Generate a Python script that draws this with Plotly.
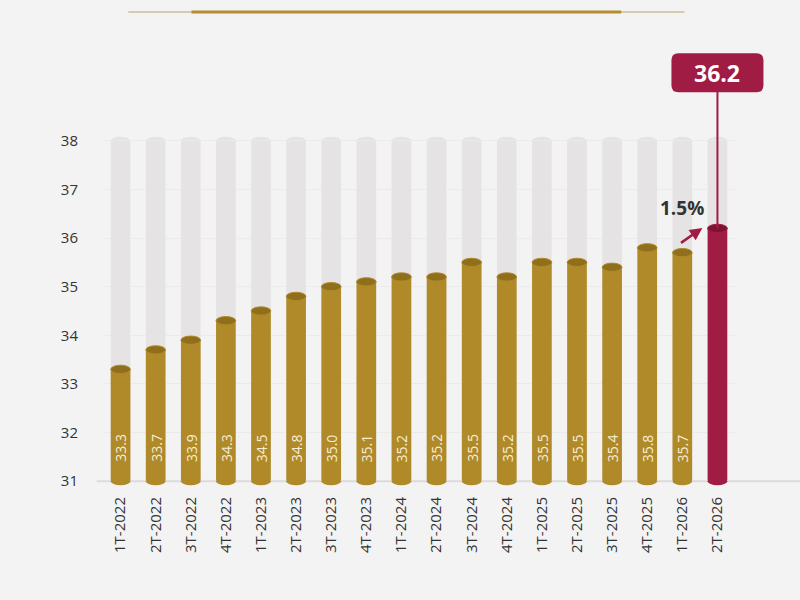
import plotly.graph_objects as go

# datos trimestrales
trimestres = ["1T-2022", "2T-2022", "3T-2022", "4T-2022",
              "1T-2023", "2T-2023", "3T-2023", "4T-2023",
              "1T-2024", "2T-2024", "3T-2024", "4T-2024",
              "1T-2025", "2T-2025", "3T-2025", "4T-2025",
              "1T-2026", "2T-2026"]
valores = [33.3, 33.7, 33.9, 34.3, 34.5, 34.8, 35.0, 35.1, 35.2,
           35.2, 35.5, 35.2, 35.5, 35.5, 35.4, 35.8, 35.7, 36.2]
variacion = "1.5%"

y_min = 31
y_max = 38
pad = 0.1

ORO = "#B08A28"
ORO_OSC = "#8F6E1C"
GUINDA = "#A11C45"
GUINDA_OSC = "#7E1233"
GRIS = "#E5E3E3"
FONDO = "#F4F3F3"

n = len(trimestres)
colores = [ORO] * (n - 1) + [GUINDA]


def a_paper(v):
    # convierte un valor del eje y a coordenada paper
    return (v - (y_min - pad)) / ((y_max + pad) - (y_min - pad))


def caja_redondeada(w, h, r):
    # rectangulo con esquinas redondeadas, en pixeles alrededor del ancla
    x0, x1, y0, y1 = -w / 2, w / 2, -h / 2, h / 2
    return (f"M {x0 + r},{y0} L {x1 - r},{y0} Q {x1},{y0} {x1},{y0 + r} "
            f"L {x1},{y1 - r} Q {x1},{y1} {x1 - r},{y1} L {x0 + r},{y1} "
            f"Q {x0},{y1} {x0},{y1 - r} L {x0},{y0 + r} Q {x0},{y0} {x0 + r},{y0} Z")


fig = go.Figure()

# barras grises de fondo
fig.add_trace(go.Bar(
    x=trimestres, y=[y_max - y_min] * n, base=y_min,
    width=0.56, marker_color=GRIS, marker_line_width=0,
    hoverinfo="skip", showlegend=False,
))
# barras de valores
fig.add_trace(go.Bar(
    x=trimestres, y=[v - y_min for v in valores], base=y_min,
    width=0.56, marker_color=colores, marker_line_width=0,
    customdata=valores, hovertemplate="%{x}: %{customdata}<extra></extra>",
    showlegend=False,
))

shapes = []
# linea base
shapes.append(dict(type="line", xref="paper", yref="y", x0=-0.01, x1=1.12,
                   y0=y_min, y1=y_min, line=dict(color="#DCDADA", width=2)))
# linea dorada decorativa arriba
shapes.append(dict(type="line", xref="paper", yref="paper", x0=0.04, x1=0.92,
                   y0=1.354, y1=1.354, line=dict(color="#CDBE95", width=1.5)))
shapes.append(dict(type="line", xref="paper", yref="paper", x0=0.14, x1=0.82,
                   y0=1.354, y1=1.354, line=dict(color="#B48E2E", width=3)))

# tapas tipo cilindro
hw = 0.28
eh = 0.085
for i, v in enumerate(valores):
    c = colores[i]
    oscuro = ORO_OSC if c == ORO else GUINDA_OSC
    # tapa redondeada de la barra gris
    shapes.append(dict(type="circle", xref="x", yref="y", x0=i - hw, x1=i + hw,
                       y0=y_max - eh, y1=y_max + eh, fillcolor=GRIS, line_width=0, layer="below"))
    # base del cilindro
    shapes.append(dict(type="circle", xref="x", yref="y", x0=i - hw, x1=i + hw,
                       y0=y_min - eh, y1=y_min + eh, fillcolor=c, line_width=0))
    # tapa superior
    shapes.append(dict(type="circle", xref="x", yref="y", x0=i - hw, x1=i + hw,
                       y0=v - eh, y1=v + eh, fillcolor=oscuro,
                       line=dict(color=c, width=1)))

# posicion en paper de la ultima categoria
x_ultima = (n - 1 + 0.5) / n

# linea vertical hacia la etiqueta del ultimo valor
shapes.append(dict(type="line", xref="paper", yref="paper", x0=x_ultima, x1=x_ultima,
                   y0=a_paper(valores[-1]), y1=1.13, line=dict(color=GUINDA, width=2)))
# caja de la etiqueta del ultimo valor
shapes.append(dict(type="path", xref="paper", yref="paper", xsizemode="pixel", ysizemode="pixel",
                   xanchor=x_ultima, yanchor=1.181, path=caja_redondeada(92, 39, 7),
                   fillcolor=GUINDA, line_width=0))

annotations = []
for i, v in enumerate(valores[:-1]):
    annotations.append(dict(x=trimestres[i], y=y_min, yanchor="bottom", yshift=17,
                            text=f"{v:.1f}", textangle=-90, showarrow=False,
                            font=dict(size=14, color="#F7EED6", family="Open Sans")))

annotations.append(dict(x=x_ultima, xref="paper", xanchor="center",
                        y=1.181, yref="paper", yanchor="middle",
                        text=f"<b>{valores[-1]:.1f}</b>", showarrow=False,
                        font=dict(size=23, color="white", family="Open Sans")))
annotations.append(dict(x=16.57, y=36.21, ax=15.92, ay=35.88, axref="x", ayref="y",
                        xref="x", yref="y", text="", showarrow=True,
                        arrowhead=2, arrowsize=1, arrowwidth=2.5, arrowcolor=GUINDA))
annotations.append(dict(x=15.98, y=36.62, text=f"<b>{variacion}</b>", showarrow=False,
                        font=dict(size=19, color="#333333", family="Open Sans")))

fig.update_layout(
    width=800, height=600,
    margin=dict(l=103, r=65, t=136, b=114),
    paper_bgcolor=FONDO, plot_bgcolor=FONDO,
    barmode="overlay", bargap=0.44,
    font=dict(family="Open Sans", color="#333333"),
    shapes=shapes, annotations=annotations,
    xaxis=dict(range=[-0.5, n - 0.5], tickangle=-90, showgrid=False,
               tickfont=dict(size=15, color="#333333"),
               ticks="outside", ticklen=4, tickcolor="rgba(0,0,0,0)", showline=False),
    yaxis=dict(range=[y_min - pad, y_max + pad], tickvals=list(range(y_min, y_max + 1)),
               tickfont=dict(size=15, color="#333333"),
               showgrid=True, gridcolor="#ECEAEA", gridwidth=1, zeroline=False,
               ticklabelstandoff=24),
)

fig.write_html("out.html", config={"displayModeBar": False},
               post_script="document.body.style.margin='0';")
